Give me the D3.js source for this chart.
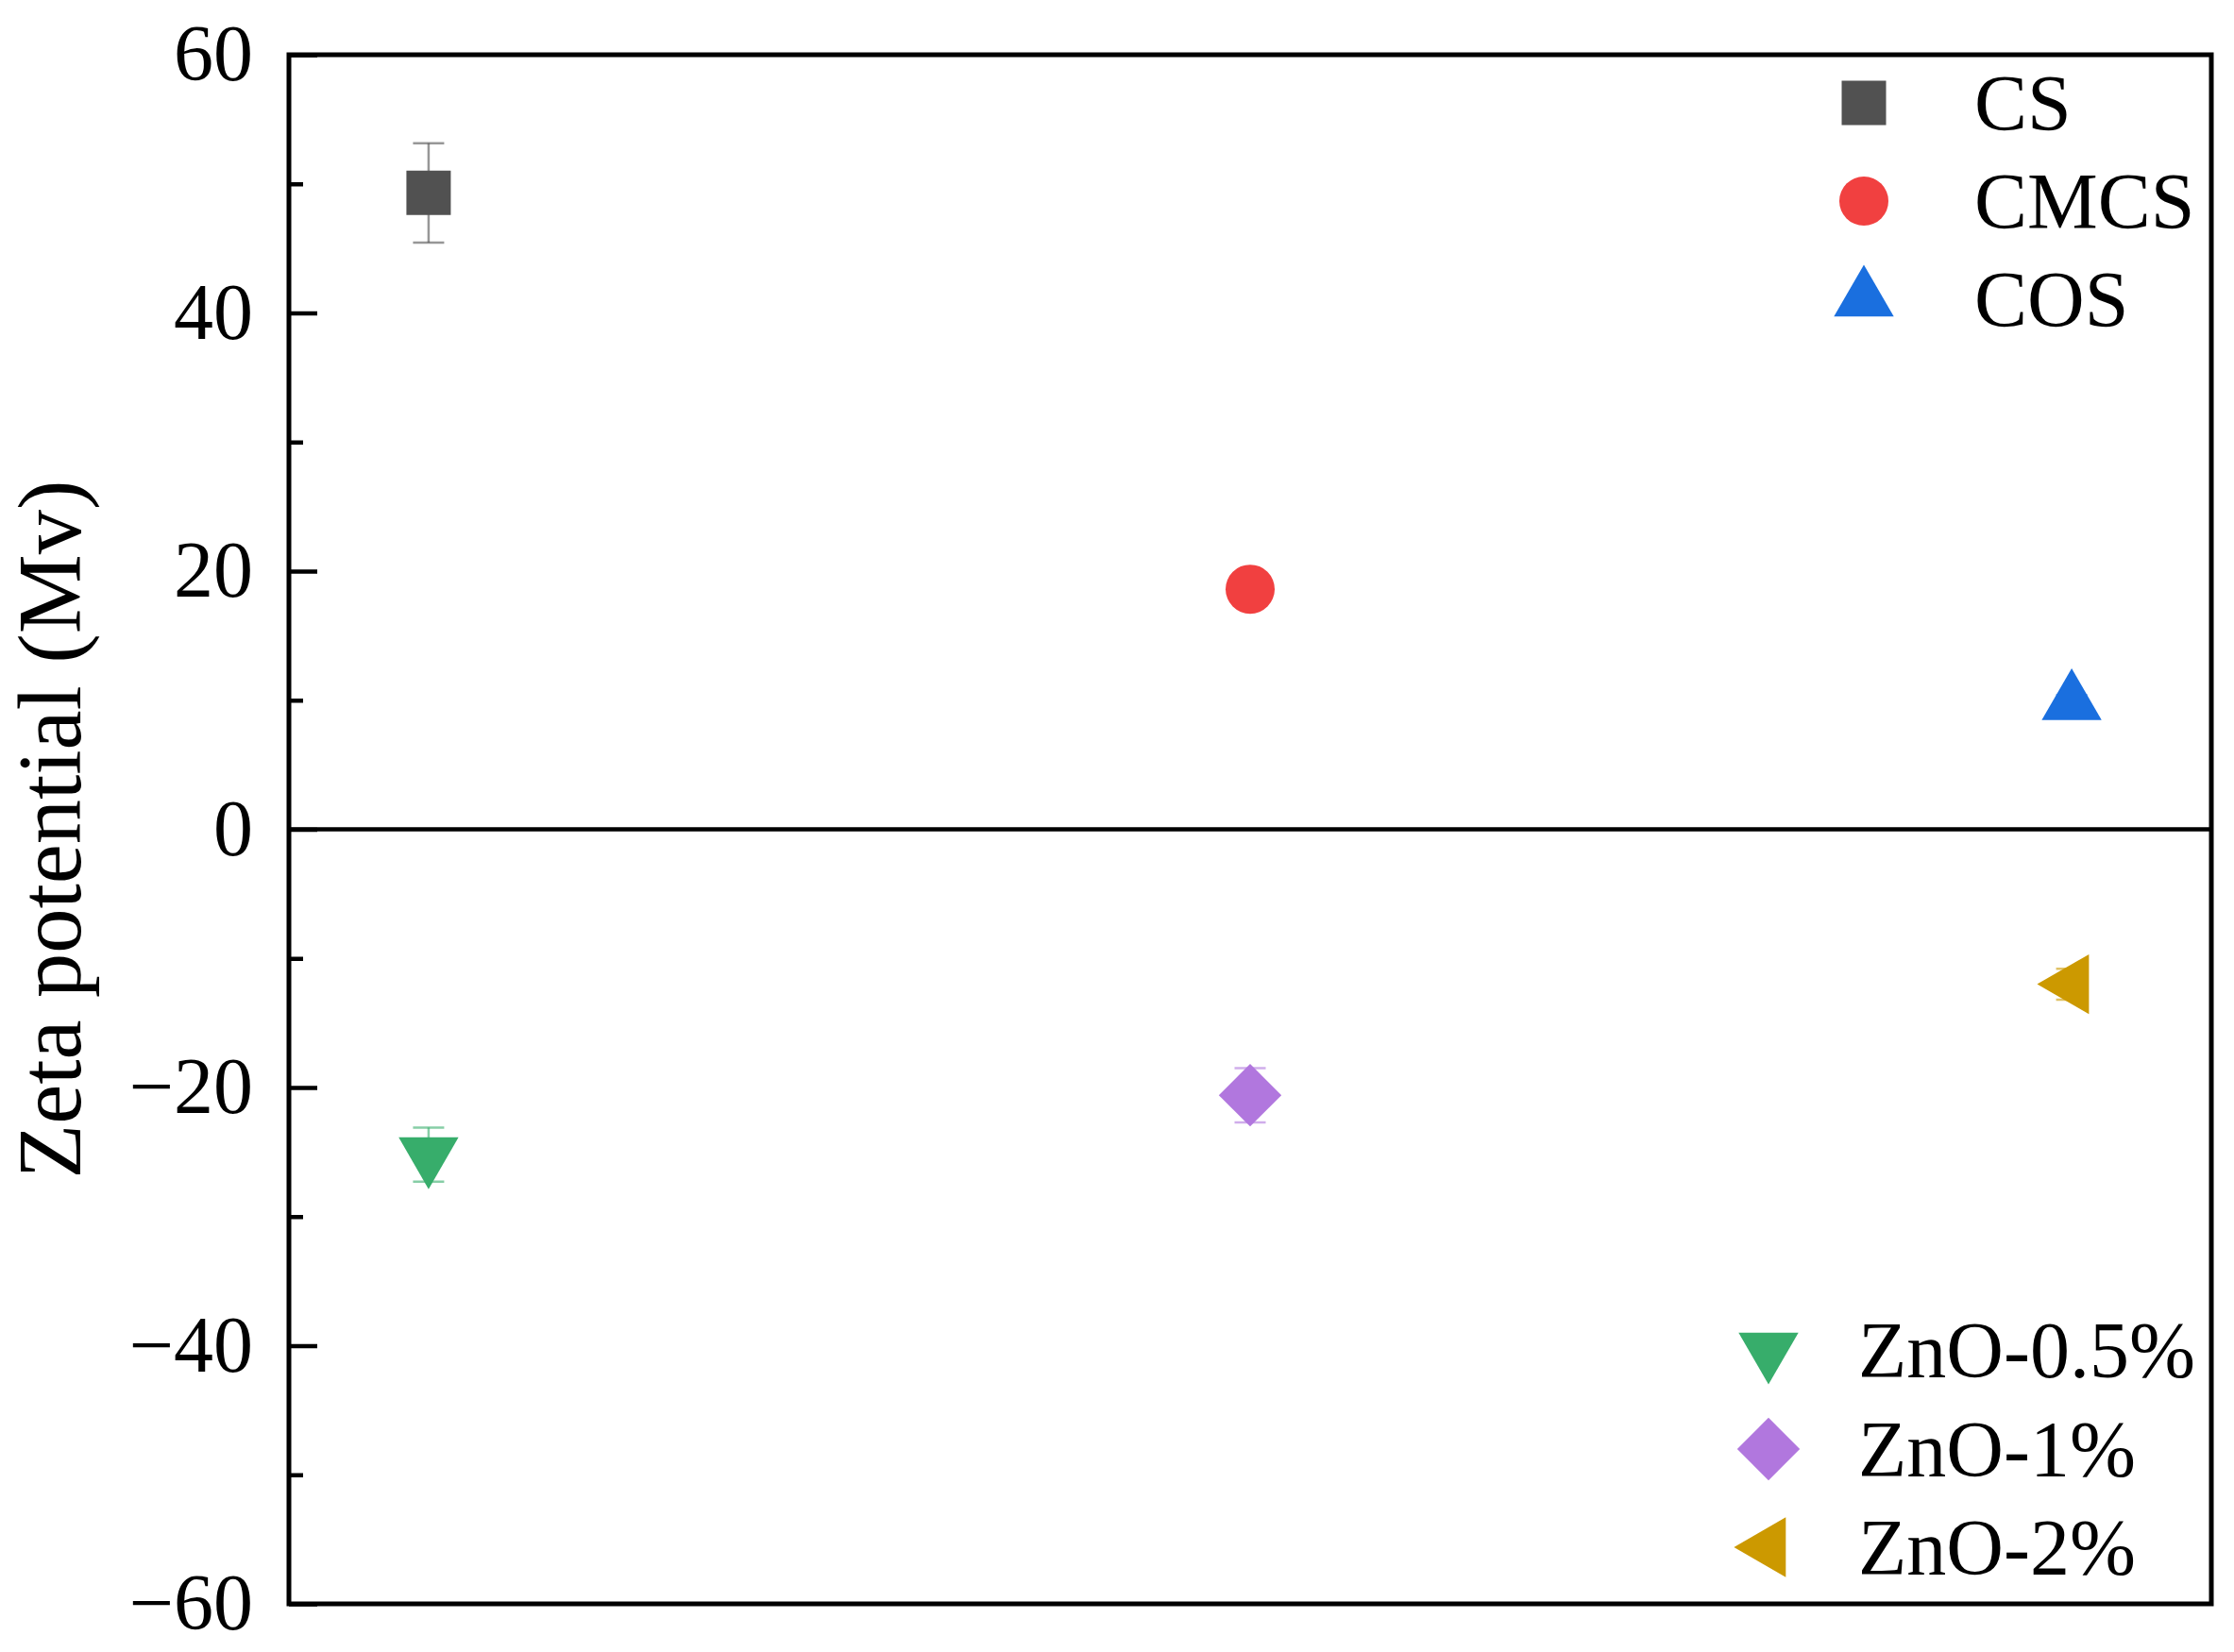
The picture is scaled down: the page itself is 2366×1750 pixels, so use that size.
<!DOCTYPE html>
<html>
<head>
<meta charset="utf-8">
<script src="https://cdn.jsdelivr.net/npm/d3@7"></script>
<style>
  html, body { margin: 0; padding: 0; background: #fff; }
  svg { display: block; }
  text { font-family: "Liberation Serif", "Times New Roman", serif; fill: #000; }
</style>
</head>
<body>
<svg id="chart" width="2366" height="1750"></svg>
<script>
// ---- data ----
const categories = ["CS", "CMCS", "COS", "ZnO-0.5%", "ZnO-1%", "ZnO-2%"];
const xPositions = [1, 2, 3, 1, 2, 3];
const zetaValues = [49.3, 18.6, 9.8, -25.2, -20.6, -12.0];
const zetaErrors = [3.85, 0.6, 0.6, 2.1, 2.1, 1.2];
const seriesColors = ["#515151", "#F14040", "#1A6FDF", "#37AD6B", "#B177DE", "#CC9900"];
const markerShapes = ["square", "circle", "triangleUp", "triangleDown", "diamond", "triangleLeft"];
const majorTicks = [-60, -40, -20, 0, 20, 40, 60];
const minorTicks = [-50, -30, -10, 10, 30, 50];
const yTitle = "Zeta potential (Mv)";
const legendTop = ["CS", "CMCS", "COS"];
const legendBottom = ["ZnO-0.5%", "ZnO-1%", "ZnO-2%"];

// ---- layout ----
const svg = d3.select("#chart");
const plot = { left: 306, right: 2342, top: 58, bottom: 1699 };
const x = d3.scaleLinear().domain([0.83, 3.17]).range([plot.left, plot.right]);
const y = d3.scaleLinear().domain([-60, 60]).range([plot.bottom, plot.top]);

const fontSize = 84;

// symbol generator
const shapeDefs = {
  square:       { type: d3.symbolSquare,   size: 2209, rot: 0 },
  circle:       { type: d3.symbolCircle,   size: 2124, rot: 0 },
  triangleUp:   { type: d3.symbolTriangle, size: 1740, rot: 0 },
  triangleDown: { type: d3.symbolTriangle, size: 1740, rot: 180 },
  diamond:      { type: d3.symbolSquare,   size: 2200, rot: 45 },
  triangleLeft: { type: d3.symbolTriangle, size: 1740, rot: -90 }
};
function symbolPath(shape) {
  const d = shapeDefs[shape];
  return d3.symbol().type(d.type).size(d.size)();
}

// zero line
svg.append("line")
  .attr("x1", plot.left).attr("x2", plot.right)
  .attr("y1", y(0)).attr("y2", y(0))
  .attr("stroke", "#000").attr("stroke-width", 4.5);

// y axis major
const axisMajor = d3.axisLeft(y).tickValues(majorTicks).tickSizeInner(-30).tickSizeOuter(0).tickPadding(38);
const gMajor = svg.append("g").attr("transform", `translate(${plot.left},0)`).call(axisMajor);
gMajor.select(".domain").remove();
gMajor.selectAll(".tick line").attr("stroke", "#000").attr("stroke-width", 4.5);
gMajor.selectAll(".tick text").attr("font-size", fontSize)
  .style("font-family", '"Liberation Serif", "Times New Roman", serif').attr("fill", "#000");

// y axis minor
const axisMinor = d3.axisLeft(y).tickValues(minorTicks).tickSizeInner(-15).tickSizeOuter(0).tickFormat("");
const gMinor = svg.append("g").attr("transform", `translate(${plot.left},0)`).call(axisMinor);
gMinor.select(".domain").remove();
gMinor.selectAll(".tick line").attr("stroke", "#000").attr("stroke-width", 4.5);

// frame
svg.append("rect")
  .attr("x", plot.left).attr("y", plot.top)
  .attr("width", plot.right - plot.left).attr("height", plot.bottom - plot.top)
  .attr("fill", "none").attr("stroke", "#000").attr("stroke-width", 5);

// y title
svg.append("text")
  .attr("transform", `translate(85, ${(plot.top + plot.bottom) / 2}) rotate(-90)`)
  .attr("text-anchor", "middle")
  .attr("font-size", 94.5)
  .text(yTitle);

// data
const data = categories.map((c, i) => ({
  name: c, x: xPositions[i], v: zetaValues[i], e: zetaErrors[i],
  color: seriesColors[i], shape: markerShapes[i]
}));

// error bars
const capHalf = 16.5;
const eb = svg.append("g").selectAll("g").data(data).join("g");
eb.append("line")
  .attr("x1", d => x(d.x)).attr("x2", d => x(d.x))
  .attr("y1", d => y(d.v + d.e)).attr("y2", d => y(d.v - d.e))
  .attr("stroke", d => d.color).attr("stroke-opacity", 0.6).attr("stroke-width", 2.5);
eb.append("line")
  .attr("x1", d => x(d.x) - capHalf).attr("x2", d => x(d.x) + capHalf)
  .attr("y1", d => y(d.v + d.e)).attr("y2", d => y(d.v + d.e))
  .attr("stroke", d => d.color).attr("stroke-opacity", 0.6).attr("stroke-width", 2.5);
eb.append("line")
  .attr("x1", d => x(d.x) - capHalf).attr("x2", d => x(d.x) + capHalf)
  .attr("y1", d => y(d.v - d.e)).attr("y2", d => y(d.v - d.e))
  .attr("stroke", d => d.color).attr("stroke-opacity", 0.6).attr("stroke-width", 2.5);

// markers
svg.append("g").selectAll("path").data(data).join("path")
  .attr("d", d => symbolPath(d.shape))
  .attr("transform", d => `translate(${x(d.x)},${y(d.v)}) rotate(${shapeDefs[d.shape].rot})`)
  .attr("fill", d => d.color);

// legends
function drawLegend(names, markerX, textX, rowYs) {
  const g = svg.append("g");
  names.forEach((n, i) => {
    const d = data.find(e => e.name === n);
    g.append("path")
      .attr("d", symbolPath(d.shape))
      .attr("transform", `translate(${markerX},${rowYs[i]}) rotate(${shapeDefs[d.shape].rot})`)
      .attr("fill", d.color);
    g.append("text")
      .attr("x", textX).attr("y", rowYs[i])
      .attr("dy", "0.34em")
      .attr("font-size", fontSize)
      .text(n);
  });
}
drawLegend(legendTop, 1974, 2091, [109, 213, 317]);
drawLegend(legendBottom, 1873, 1968, [1430, 1535, 1639]);
</script>
</body>
</html>
